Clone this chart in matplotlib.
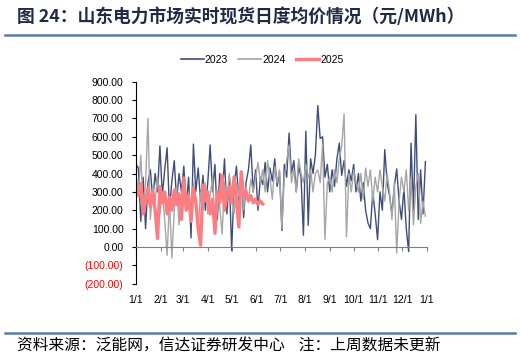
import matplotlib
matplotlib.use("Agg")
import matplotlib.pyplot as plt
import numpy as np
from matplotlib.lines import Line2D
import datetime as dt

plt.rcParams['font.family'] = ['Liberation Sans', 'Noto Sans CJK SC', 'DejaVu Sans']

step_days = 3
y2023 = [450, 430, 140, 380, 100, 350, 420, 260, 400, 300, 550,
         280, 420, 540, 200, 360, 470, 250, 400, 300,
         440, 220, 380, 50, 560, 300, 430, 250, 390, 200,
         350, 555, 300, 450, 150, 400, 270, 480, 180, 380,
         -20, 330, 440, 250, 400, 160, 350, 420, 555, 300, 420,
         200, 380, 340, 460, 300, 430, 360, 480, 330, 410,
         90, 450, 380, 620, 400, 470, 300, 440, 380, 64,
         630, 118, 480, 400, 500, 770, 590, 600, 380, 450,
         300, 420, 330, 480, 565, 390, 470, 330, 420, 360,
         450, 300, 400, 250, 350, 200, 130, 100, 300, 180, 40,
         300, 200, 530, 350, 280, 180, 330, 425, 250, 150,
         320, 100, -25, 565, 200, 720, 150, 420, 180, 465]
y2024 = [400, 280, 500, 200, 350, 700, 150, 330, 250, 380, 180,
         300, 150, -45, 250, -60, 200, 330, 120, 280,
         380, 220, 300, 150, 350, 250, 100, 300, 200, 350,
         180, 280, 380, 120, 300, 220, 70, 350, 250, 400,
         300, 180, 350, 280, 400, 200, 330, 250, 370, 300, 380,
         460, 350, 420, 300, 470, 380, 260, 440, 350, 420,
         103, 380, 470, 555, 350, 420, 300, 480, 400, 350,
         450, 380, 420, 300, 400, 420, 350, 560, 42, 350,
         380, 300, 420, 350, 480, 550, 724, 55, 400, 300,
         420, 350, 300, 400, 260, 430, 330, 420, 250, 380, 300,
         420, 330, 250, 400, 300, 150, 350, -33, 250, 380,
         300, 420, 200, 380, 120, 330, 400, 128, 250, 168]
y2025 = [310, 280, 346, 180, 250, 320, 220, 300, 200, 47, 330,
         240, 300, 180, 270, 200, 310, 230, 290, 150,
         375, 200, 280, 140, 320, 250, 100, 10, 337, 250,
         300, 180, 260, 75, 300, 240, 391, 200, 280, 330,
         240, 382, 250, 109, 409, 280, 300, 250, 280, 240, 260,
         230, 250, 235]
series_names = ['2023', '2024', '2025']
series_colors = ['#404D78', '#A6A6A6', '#FF7C80']
series_widths = [1.0, 1.0, 2.4]
xtick_labels = ['1/1', '2/1', '3/1', '4/1', '5/1', '6/1', '7/1', '8/1',
                '9/1', '10/1', '11/1', '12/1', '1/1']

W, H = 521, 358
fig = plt.figure(figsize=(W / 100, H / 100), dpi=100)
ax = fig.add_axes([136 / W, 1 - 283.8 / H, (427 - 136) / W, (283.8 - 81.6) / H])

base = dt.date(2025, 1, 1)
for vals, name, col, lw in zip([y2023, y2024, y2025], series_names, series_colors, series_widths):
    xs = [base + dt.timedelta(days=step_days * i) for i in range(len(vals))]
    ax.plot(xs, vals, color=col, lw=lw, label=name, solid_joinstyle='round')

ax.set_ylim(-200, 900)
ax.set_xlim(base, dt.date(2026, 1, 1))
yt = np.arange(-200, 901, 100)
ax.set_yticks(yt)
ax.set_yticklabels([f"({abs(v):.2f})" if v < 0 else f"{v:.2f}" for v in yt])
for lab, v in zip(ax.get_yticklabels(), yt):
    lab.set_color('#FF0000' if v < 0 else '#000000')

months = [dt.date(2025, m, 1) for m in range(1, 13)] + [dt.date(2026, 1, 1)]
ax.set_xticks(months)
ax.set_xticklabels(xtick_labels)

for s in ['top', 'right']:
    ax.spines[s].set_visible(False)
ax.spines['bottom'].set_position(('data', 0))
ax.spines['bottom'].set_color('#808080')
ax.spines['left'].set_color('#000000')
ax.spines['left'].set_linewidth(0.8)
ax.tick_params(axis='y', direction='out', length=3, width=0.8, labelsize=7.5, pad=6)
ax.tick_params(axis='x', direction='out', length=3, width=0.8, color='#808080',
               labelsize=7.5, pad=31.5)

handles = [Line2D([], [], color=c, lw=(1.2 if w < 2 else 2.4)) for c, w in zip(series_colors, series_widths)]
fig.legend(handles, series_names, loc='center', bbox_to_anchor=(0.503, 0.832),
           ncol=3, frameon=False, fontsize=7.5, handlelength=2.2, handletextpad=0.1,
           columnspacing=1.0)

# title and decorations
fig.text(17 / W, 1 - 17 / H, '图 24：山东电力市场实时现货日度均价情况（元/MWh）',
         fontsize=12.8, fontweight='bold', color='#1F2A44', va='center', ha='left',
         family=['Noto Sans CJK SC', 'DejaVu Sans'])
fig.add_artist(Line2D([5 / W, 515 / W], [1 - 35 / H, 1 - 35 / H], color='#5A7BA8', lw=1.8))
fig.add_artist(Line2D([5 / W, 515 / W], [1 - 333 / H, 1 - 333 / H], color='#5A7BA8', lw=1.8))
fig.text(17 / W, 1 - 346 / H, '资料来源：泛能网，信达证券研发中心    注：上周数据未更新',
         fontsize=11.3, color='#000000', va='center', ha='left',
         family=['Noto Sans CJK SC', 'DejaVu Sans'])

fig.savefig('out.png', dpi=100)
